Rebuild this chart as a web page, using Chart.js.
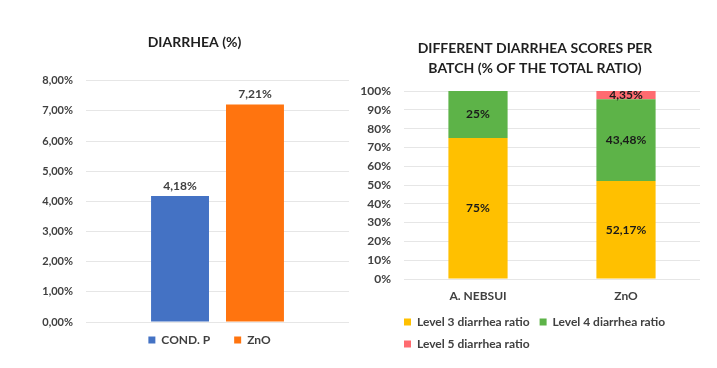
<!DOCTYPE html>
<html lang="en">
<head>
    <meta charset="UTF-8">
    <title>Diarrhea</title>
    <style>
        body {
            margin: 0;
            background-color: white;
            width: 717px;
            height: 368px;
            position: relative;
            overflow: hidden;
        }
        .chart-box {
            position: absolute;
            top: 0;
            height: 368px;
        }
        #leftBox { left: 0; width: 358px; }
        #rightBox { left: 358px; width: 350px; }
    </style>
    <script src="https://cdn.jsdelivr.net/npm/chart.js"></script>
</head>
<body>
    <div class="chart-box" id="leftBox"><canvas id="leftChart"></canvas></div>
    <div class="chart-box" id="rightBox"><canvas id="rightChart"></canvas></div>

    <script>
        // left chart
        const diarrheaGroups = ['COND. P', 'ZnO'];
        const diarrheaValues = [4.18, 7.21];

        // right chart
        const batches = ['A. NEBSUI', 'ZnO'];
        const level3 = [75, 52.17];
        const level4 = [25, 43.48];
        const level5 = [0, 4.35];
        const levelNames = ['Level 3 diarrhea ratio', 'Level 4 diarrhea ratio', 'Level 5 diarrhea ratio'];

        const FONT = 'Lato, "Liberation Sans", sans-serif';
        const tickColor = '#404040';
        const gridColor = '#e6e6e6';

        function fmt(v, digits) {
            if (digits === undefined) {
                return Number.isInteger(v) ? v + '%' : String(v).replace('.', ',') + '%';
            }
            return v.toFixed(digits).replace('.', ',') + '%';
        }

        // draw value labels on the bars
        function valueLabels(mode) {
            return {
                id: 'valueLabels',
                afterDatasetsDraw(chart) {
                    const ctx = chart.ctx;
                    ctx.save();
                    ctx.font = 'bold 12px ' + FONT;
                    ctx.textAlign = 'center';
                    chart.data.datasets.forEach((ds, i) => {
                        chart.getDatasetMeta(i).data.forEach((bar, j) => {
                            const v = ds.data[j];
                            if (!v) return;
                            if (mode === 'top') {
                                ctx.fillStyle = tickColor;
                                ctx.textBaseline = 'bottom';
                                ctx.fillText(fmt(v, 2), bar.x, bar.y - 4);
                            } else {
                                ctx.fillStyle = '#1a1a1a';
                                ctx.textBaseline = 'middle';
                                ctx.fillText(fmt(v), bar.x, (bar.y + bar.base) / 2);
                            }
                        });
                    });
                    ctx.restore();
                }
            };
        }

        // move legend / title after layout
        function nudge(legendDx, legendDy, titleDx) {
            return {
                id: 'nudge',
                afterLayout(chart) {
                    if (chart.legend) {
                        chart.legend.left += legendDx;
                        chart.legend.right += legendDx;
                        chart.legend.top += legendDy;
                        chart.legend.bottom += legendDy;
                    }
                    if (titleDx && chart.titleBlock) {
                        chart.titleBlock.left += titleDx;
                        chart.titleBlock.right += titleDx;
                    }
                }
            };
        }

        new Chart(document.getElementById('leftChart'), {
            type: 'bar',
            data: {
                labels: [''],
                datasets: [
                    { label: diarrheaGroups[0], data: [diarrheaValues[0]], backgroundColor: '#4472c4' },
                    { label: diarrheaGroups[1], data: [diarrheaValues[1]], backgroundColor: '#ff740f' }
                ]
            },
            options: {
                responsive: true,
                maintainAspectRatio: false,
                animation: false,
                categoryPercentage: 0.57,
                barPercentage: 0.773,
                layout: { padding: { left: 40, right: 9, top: 0, bottom: 0 } },
                scales: {
                    x: { display: false },
                    y: {
                        min: 0,
                        max: 8,
                        afterFit(scale) { scale.width = 46; },
                        ticks: {
                            stepSize: 1,
                            padding: 13,
                            color: tickColor,
                            font: { family: FONT, size: 11, weight: 'bold' },
                            callback: v => fmt(v, 2)
                        },
                        grid: { color: gridColor, drawTicks: false },
                        border: { display: false }
                    }
                },
                plugins: {
                    title: {
                        display: true,
                        text: 'DIARRHEA (%)',
                        color: '#1f1f1f',
                        font: { family: FONT, size: 14, weight: 'bold' },
                        padding: { top: 34, bottom: 30 }
                    },
                    legend: {
                        position: 'bottom',
                        labels: {
                            boxWidth: 7,
                            boxHeight: 7,
                            padding: 24,
                            color: tickColor,
                            font: { family: FONT, size: 12, weight: 'bold' }
                        }
                    },
                    tooltip: { enabled: false }
                }
            },
            plugins: [valueLabels('top'), nudge(15, -12, 0)]
        });

        new Chart(document.getElementById('rightChart'), {
            type: 'bar',
            data: {
                labels: batches,
                datasets: [
                    { label: levelNames[0], data: level3, backgroundColor: '#ffc000' },
                    { label: levelNames[1], data: level4, backgroundColor: '#5db348' },
                    { label: levelNames[2], data: level5, backgroundColor: '#ff6b70' }
                ]
            },
            options: {
                responsive: true,
                maintainAspectRatio: false,
                animation: false,
                categoryPercentage: 1,
                barPercentage: 0.4,
                layout: { padding: { left: 2, right: 8, top: 0, bottom: 8 } },
                scales: {
                    x: {
                        stacked: true,
                        afterFit(scale) { scale.height = 27; },
                        ticks: {
                            padding: 10,
                            color: tickColor,
                            font: { family: FONT, size: 12, weight: 'bold' }
                        },
                        grid: { display: false, drawTicks: false },
                        border: { display: false }
                    },
                    y: {
                        stacked: true,
                        min: 0,
                        max: 100,
                        afterFit(scale) { scale.width = 44; },
                        ticks: {
                            stepSize: 10,
                            padding: 13,
                            color: tickColor,
                            font: { family: FONT, size: 12, weight: 'bold' },
                            callback: v => v + '%'
                        },
                        grid: { color: gridColor, drawTicks: false },
                        border: { display: false }
                    }
                },
                plugins: {
                    title: {
                        display: true,
                        text: ['DIFFERENT DIARRHEA SCORES PER', 'BATCH (% OF THE TOTAL RATIO)'],
                        color: '#1f1f1f',
                        font: { family: FONT, size: 14, weight: 'bold', lineHeight: 1.43 },
                        padding: { top: 38, bottom: 13 }
                    },
                    legend: {
                        position: 'bottom',
                        align: 'start',
                        labels: {
                            boxWidth: 7,
                            boxHeight: 7,
                            padding: 10,
                            color: tickColor,
                            font: { family: FONT, size: 12, weight: 'bold' }
                        }
                    },
                    tooltip: { enabled: false }
                }
            },
            plugins: [valueLabels('middle'), nudge(34, 0, 5)]
        });
    </script>
</body>
</html>
